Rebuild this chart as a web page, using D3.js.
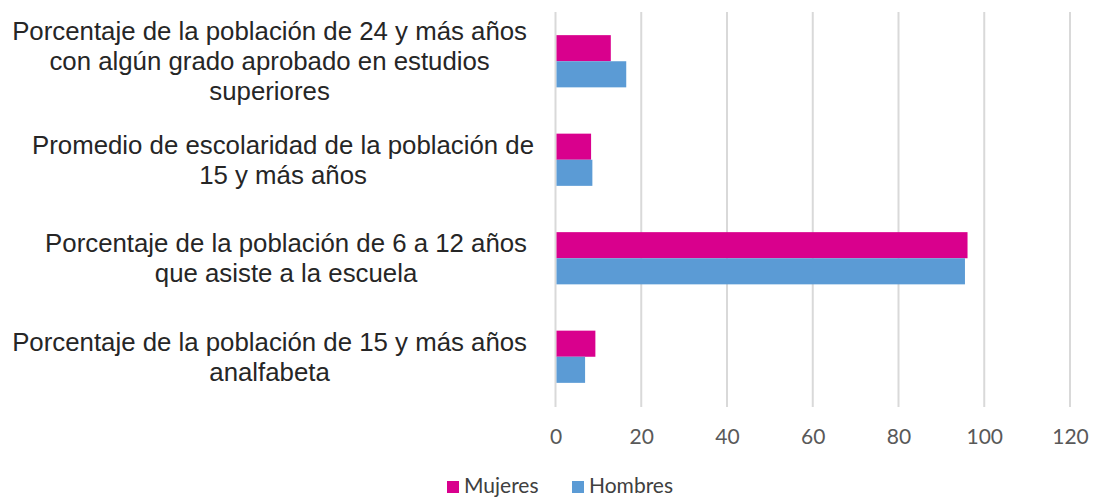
<!DOCTYPE html>
<html>
<head>
<meta charset="utf-8">
<script src="https://cdn.jsdelivr.net/npm/d3@7"></script>
<style>
  html, body { margin: 0; padding: 0; background: #fff; }
  svg { display: block; }
  .cat { font-family: "Liberation Sans", Arial, sans-serif; font-size: 25.8px; fill: #262626; }
  .tick text { font-family: Lato, "Open Sans", sans-serif; font-size: 21px; fill: #595959; }
  .leyenda text { font-family: Lato, "Open Sans", sans-serif; font-size: 21px; fill: #404040; }
</style>
</head>
<body>
<svg id="chart" width="1093" height="498"></svg>
<script>
const categorias = [
  ["Porcentaje de la población de 24 y más años", "con algún grado aprobado en estudios", "superiores"],
  ["Promedio de escolaridad de la población de", "15 y más años"],
  ["Porcentaje de la población de 6 a 12 años", "que asiste a la escuela"],
  ["Porcentaje de la población de 15 y más años", "analfabeta"]
];
const mujeres = [12.9, 8.3, 96.1, 9.3];
const hombres = [16.5, 8.6, 95.5, 6.9];
const ticks = [0, 20, 40, 60, 80, 100, 120];
const series = [
  { nombre: "Mujeres", valores: mujeres, color: "#d9008d" },
  { nombre: "Hombres", valores: hombres, color: "#5b9bd5" }
];

const svg = d3.select("#chart");
const width = 1093, height = 498;
const x = d3.scaleLinear().domain([0, 120]).range([555.5, 1070]);
const y = d3.scaleBand().domain(d3.range(categorias.length)).range([12, 406]).paddingInner(0.47).paddingOuter(0.235);
const ySub = d3.scaleBand().domain(series.map(s => s.nombre)).range([0, y.bandwidth()]);

// rejilla
svg.append("g")
  .selectAll("line")
  .data(ticks)
  .join("line")
  .attr("x1", d => x(d)).attr("x2", d => x(d))
  .attr("y1", 12).attr("y2", 407)
  .attr("stroke", "#d9d9d9")
  .attr("stroke-width", 2);

// barras
series.forEach(s => {
  svg.append("g")
    .selectAll("rect")
    .data(s.valores)
    .join("rect")
    .attr("x", x(0) + 1)
    .attr("y", (d, i) => y(i) + ySub(s.nombre))
    .attr("width", d => x(d) - x(0) - 1)
    .attr("height", ySub.bandwidth())
    .attr("fill", s.color);
});

// eje x
const ejeX = svg.append("g")
  .attr("transform", "translate(0,437)")
  .call(d3.axisBottom(x).tickValues(ticks).tickSize(0).tickPadding(0));
ejeX.select(".domain").remove();
ejeX.selectAll("text").attr("dy", "0.35em");

// etiquetas de categorías
const bordeDerecho = [527, 534, 527, 527];
const etiquetas = svg.append("g");
categorias.forEach((lineas, i) => {
  const cy = y(i) + y.bandwidth() / 2;
  const t = etiquetas.append("text").attr("class", "cat").attr("text-anchor", "middle");
  const alto = 30;
  const y0 = cy - (lineas.length - 1) * alto / 2;
  lineas.forEach((l, j) => {
    t.append("tspan").attr("x", 0).attr("y", y0 + j * alto).attr("dy", "0.35em").text(l);
  });
  let maxW = 0;
  t.selectAll("tspan").each(function() { maxW = Math.max(maxW, this.getComputedTextLength()); });
  t.selectAll("tspan").attr("x", bordeDerecho[i] - maxW / 2);
});

// leyenda
const leyenda = svg.append("g").attr("class", "leyenda");
const posLeyenda = [447, 572];
series.forEach((s, i) => {
  const g = leyenda.append("g").attr("transform", `translate(${posLeyenda[i]},486)`);
  g.append("rect").attr("x", 0).attr("y", -5).attr("width", 12).attr("height", 12).attr("fill", s.color);
  g.append("text").attr("x", 17).attr("y", 0).attr("dy", "0.35em").text(s.nombre);
});
</script>
</body>
</html>
